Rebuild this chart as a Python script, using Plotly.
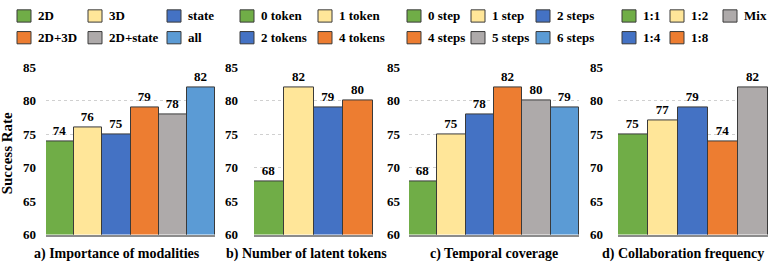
import plotly.graph_objects as go

W, H = 769, 269

# ---------------- data ----------------
cats_a = ["2D", "3D", "state", "2D+3D", "2D+state", "all"]
vals_a = [74, 76, 75, 79, 78, 82]
cats_b = ["0 token", "1 token", "2 tokens", "4 tokens"]
vals_b = [68, 82, 79, 80]
cats_c = ["0 step", "1 step", "2 steps", "4 steps", "5 steps", "6 steps"]
vals_c = [68, 75, 78, 82, 80, 79]
cats_d = ["1:1", "1:2", "1:4", "1:8", "Mix"]
vals_d = [75, 77, 79, 74, 82]

titles = ["a) Importance of modalities", "b) Number of latent tokens",
          "c) Temporal coverage", "d) Collaboration frequency"]
y_ticks = [60, 65, 70, 75, 80, 85]

GREEN, YELLOW, BLUE, ORANGE, GRAY, LBLUE = "#70AD47", "#FFE699", "#4472C4", "#ED7D31", "#AEAAAA", "#5B9BD5"
colors_a = [GREEN, YELLOW, BLUE, ORANGE, GRAY, LBLUE]
colors_b = [GREEN, YELLOW, BLUE, ORANGE]
colors_c = [GREEN, YELLOW, BLUE, ORANGE, GRAY, LBLUE]
colors_d = [GREEN, YELLOW, BLUE, ORANGE, GRAY]

panels = [(cats_a, vals_a, colors_a), (cats_b, vals_b, colors_b),
          (cats_c, vals_c, colors_c), (cats_d, vals_d, colors_d)]

# ---------------- layout geometry (pixels) ----------------
x_px = [(46, 215), (254, 373), (409, 579), (618, 768)]
y_top, y_bot = 64, 241
standoffs = [9, 15, 8, 14]
title_cx = [117, 306, 494, 683]

# legend grid: (category index, box-left x px, row)
legend_cols = {
    0: [(0, 17, 0), (1, 88, 0), (2, 167, 0), (3, 17, 1), (4, 88, 1), (5, 167, 1)],
    1: [(0, 240, 0), (1, 318, 0), (2, 240, 1), (3, 318, 1)],
    2: [(0, 407, 0), (1, 471, 0), (2, 536, 0), (3, 407, 1), (4, 471, 1), (5, 536, 1)],
    3: [(0, 622, 0), (1, 670, 0), (4, 723, 0), (2, 622, 1), (3, 670, 1)],
}
row_y = [9, 32]

FONT = "Liberation Serif, Times New Roman, serif"

fig = go.Figure()
layout = dict(
    width=W, height=H, margin=dict(l=0, r=0, t=0, b=0),
    paper_bgcolor="white", plot_bgcolor="white",
    showlegend=False, bargap=0,
    font=dict(family=FONT, size=13, color="black"),
)
shapes, annotations = [], []

for i, (cats, vals, cols) in enumerate(panels):
    xa = "x" if i == 0 else f"x{i+1}"
    ya = "y" if i == 0 else f"y{i+1}"
    fig.add_trace(go.Bar(
        x=cats, y=vals, xaxis=xa, yaxis=ya,
        marker=dict(color=cols, line=dict(color="#3a3a3a", width=1)),
        text=[f"<b>{v}</b>" for v in vals], textposition="outside",
        textfont=dict(family=FONT, size=13, color="black"),
        cliponaxis=False, width=1, hoverinfo="skip",
    ))
    xk = "xaxis" if i == 0 else f"xaxis{i+1}"
    yk = "yaxis" if i == 0 else f"yaxis{i+1}"
    x0, x1 = x_px[i]
    layout[xk] = dict(domain=[x0 / W, x1 / W], anchor=ya, showticklabels=False,
                      ticks="", showgrid=False, showline=True, linecolor="#8c8c8c",
                      linewidth=1.5, range=[-0.5, len(cats) - 0.5], fixedrange=True)
    layout[yk] = dict(domain=[1 - y_bot / H, 1 - y_top / H], anchor=xa,
                      range=[60, 85], tickvals=y_ticks,
                      ticktext=[f"<b>{t}</b>" for t in y_ticks],
                      showline=False, zeroline=False, fixedrange=True,
                      showgrid=True, gridcolor="#d0d0d0", griddash="dot", gridwidth=1,
                      tickfont=dict(family=FONT, size=13, color="black"),
                      ticklabelstandoff=standoffs[i])
    # panel title
    annotations.append(dict(text=f"<b>{titles[i]}</b>", x=title_cx[i] / W, y=1 - 262 / H,
                            xref="paper", yref="paper", showarrow=False,
                            xanchor="center", yanchor="middle",
                            font=dict(family=FONT, size=14, color="black")))
    # legend
    for (ci, bx, r) in legend_cols[i]:
        cy = row_y[r]
        shapes.append(dict(type="rect", xref="paper", yref="paper",
                           x0=bx / W, x1=(bx + 14) / W,
                           y0=1 - (cy + 7) / H, y1=1 - (cy - 6) / H,
                           fillcolor=cols[ci], line=dict(color="#3a3a3a", width=1)))
        annotations.append(dict(text=f"<b>{cats[ci]}</b>", x=(bx + 19) / W, y=1 - cy / H,
                                xref="paper", yref="paper", showarrow=False,
                                xanchor="left", yanchor="middle",
                                font=dict(family=FONT, size=13, color="black")))

annotations.append(dict(text="<b>Success Rate</b>", x=7 / W, y=1 - 155 / H,
                        xref="paper", yref="paper", showarrow=False, textangle=-90,
                        xanchor="center", yanchor="middle",
                        font=dict(family=FONT, size=15, color="black")))

layout["shapes"] = shapes
layout["annotations"] = annotations
fig.update_layout(**layout)
fig.write_html("out.html", config={"displayModeBar": False},
               post_script="document.body.style.margin='0';document.body.style.overflow='hidden';")
